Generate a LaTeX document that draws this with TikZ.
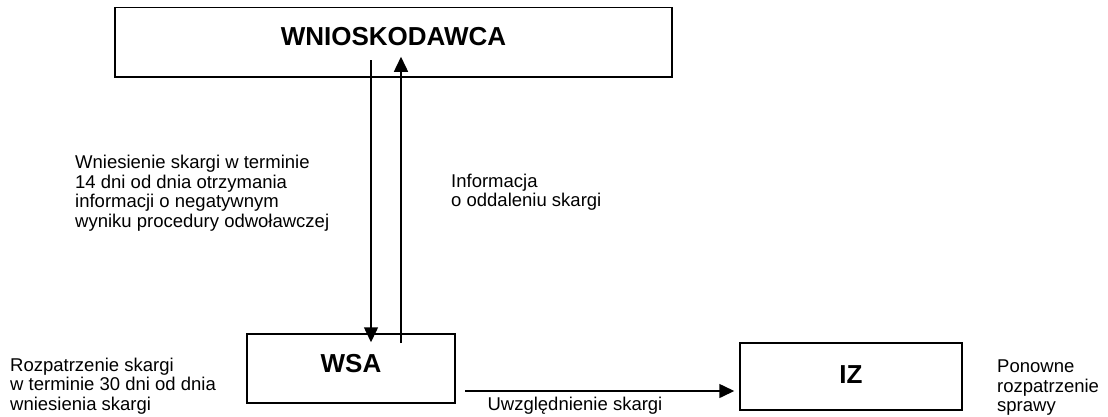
\documentclass[tikz,border=0pt]{standalone}
\usepackage{fontspec}
\setmainfont{Liberation Sans}
\usetikzlibrary{arrows.meta,calc}
\begin{document}
\begin{tikzpicture}[x=1pt,y=-1pt,
  box/.style={draw,line width=1.5pt,inner sep=0pt,text height=18.7pt,font=\bfseries\fontsize{26}{30}\selectfont},
  lbl/.style={align=left,inner sep=0pt,font=\fontsize{18.5}{19.5}\selectfont},
  arr/.style={line width=1.5pt,-{Triangle[length=15pt,width=14pt]}}]
\useasboundingbox (0,0) rectangle (1108,416);

% boxes (text depth lifts each title a little above the middle)
\node[box,text depth=13pt,minimum width=557pt,minimum height=69.5pt] (wn) at (393.5,42.25) {WNIOSKODAWCA};
\node[box,text depth=10pt,minimum width=208pt,minimum height=69pt] (wsa) at (351,368.5) {WSA};
\node[box,text depth=5pt,minimum width=222pt,minimum height=67pt] (iz) at (851,376.5) {IZ};

% labels
\node[lbl,anchor=west] (lwn) at (75,193) {Wniesienie skargi w terminie\\14 dni od dnia otrzymania\\informacji o negatywnym\\wyniku procedury odwoławczej};
\node[lbl,anchor=west] (linfo) at (451,192) {Informacja\\o oddaleniu skargi};
\node[lbl,anchor=west] (lrozp) at (10,386) {Rozpatrzenie skargi\\w terminie 30 dni od dnia\\wniesienia skargi};
\node[lbl] (luwz) at (575,406) {Uwzględnienie skargi};
\node[lbl,anchor=west] (lpon) at (997,388) {Ponowne\\rozpatrzenie\\sprawy};

% connectors
\coordinate (d0) at (371,60);
\coordinate (u0) at (401,343);
\coordinate (h0) at (465,391);
\draw[arr] (d0) -- ($(d0 |- wsa.north)+(0,9)$);
\draw[arr] (u0) -- ($(u0 |- wn.south)+(0,-21)$);
\draw[arr,shorten >=5pt] (h0) -- (h0 -| iz.west);
\end{tikzpicture}
\end{document}
